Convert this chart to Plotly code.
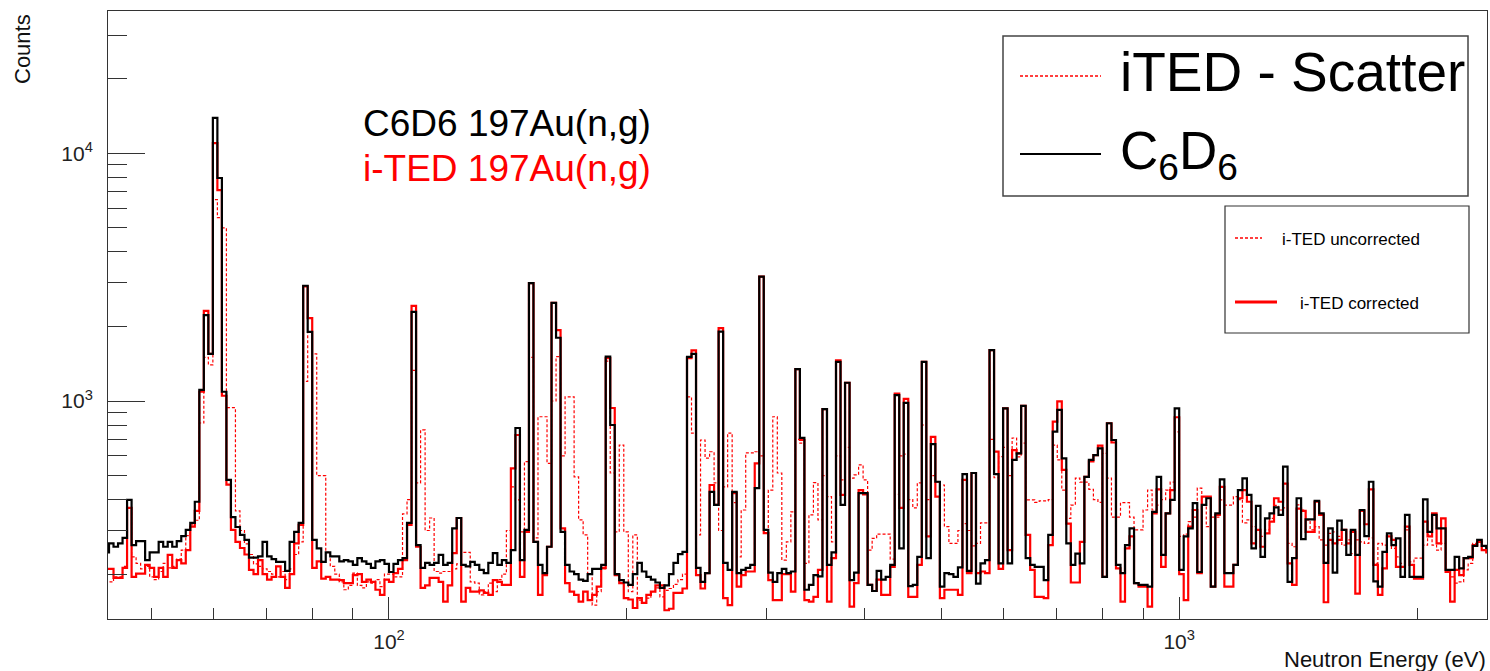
import numpy as np
import plotly.graph_objects as go

# ---------------- data ----------------
# Histogram binning: 175 logarithmic bins per decade, edges anchored on 1 keV
bins_per_decade = 175
first_bin_index = -238          # first visible bin starts 238 bins below 1000 eV

# C6D6 197Au(n,g) counts per bin
c6d6 = [
    245, 266, 258, 266, 280, 399, 262, 272, 272, 228,
    245, 245, 270, 258, 270, 258, 272, 285, 302, 322,
    392, 1108, 2223, 1550, 13900, 7950, 1090, 480, 340, 310,
    288, 275, 233, 233, 236, 270, 236, 230, 224, 224,
    206, 270, 296, 322, 2920, 1900, 275, 254, 224, 245,
    236, 236, 225, 228, 225, 218, 232, 225, 220, 212,
    225, 228, 220, 204, 220, 228, 232, 322, 2290, 262,
    212, 222, 218, 222, 239, 218, 222, 306, 337, 218,
    215, 224, 218, 208, 202, 222, 243, 218, 228, 222,
    250, 778, 228, 302, 2990, 270, 218, 202, 258, 2490,
    1800, 296, 218, 205, 200, 190, 188, 200, 210, 210,
    218, 1510, 800, 200, 189, 185, 181, 200, 222, 205,
    195, 190, 185, 176, 180, 200, 222, 241, 246, 1506,
    1550, 212, 186, 202, 430, 381, 1905, 222, 208, 430,
    202, 208, 212, 218, 445, 3180, 302, 203, 186, 202,
    210, 202, 205, 1345, 710, 173, 181, 198, 196, 928,
    218, 245, 1440, 381, 1185, 189, 203, 425, 425, 181,
    171, 206, 190, 195, 218, 1057, 254, 982, 179, 181,
    235, 1440, 232, 670, 472, 178, 202, 200, 195, 213,
    507, 206, 512, 183, 221, 228, 1606, 507, 221, 934,
    221, 578, 615, 955, 232, 218, 214, 214, 189, 288,
    752, 920, 587, 266, 218, 242, 221, 494, 578, 605,
    644, 195, 813, 696, 218, 202, 262, 306, 184, 181,
    181, 178, 357, 494, 239, 352, 399, 934, 208, 284,
    306, 387, 204, 381, 405, 178, 352, 483, 202, 202,
    218, 437, 487, 418, 254, 377, 235, 336, 352, 372,
    347, 543, 186, 232, 405, 277, 333, 333, 395, 352,
    222, 306, 203, 329, 302, 239, 302, 239, 363, 285,
    472, 187, 178, 246, 292, 262, 279, 195, 347, 195,
    195, 195, 401, 296, 347, 306, 306, 208, 208, 235,
    211, 232, 235, 260, 275, 260, 255,
]

# i-TED corrected counts per bin
ited_corrected = [
    210, 210, 193, 193, 212, 370, 195, 201, 201, 218,
    212, 195, 212, 195, 239, 212, 228, 221, 250, 311,
    360, 1090, 2310, 1550, 11000, 7100, 1050, 460, 302, 270,
    255, 240, 208, 200, 228, 200, 190, 195, 215, 195,
    176, 200, 266, 316, 2900, 2160, 212, 225, 192, 195,
    190, 190, 189, 184, 184, 198, 200, 186, 190, 186,
    173, 165, 190, 186, 202, 210, 228, 316, 2420, 258,
    176, 180, 193, 193, 186, 155, 180, 243, 337, 155,
    176, 170, 170, 172, 168, 165, 189, 186, 181, 181,
    535, 729, 195, 296, 2990, 270, 165, 198, 258, 2490,
    1934, 306, 184, 170, 165, 155, 170, 157, 165, 178,
    212, 1490, 937, 198, 184, 160, 158, 146, 160, 153,
    165, 170, 180, 180, 143, 145, 168, 168, 175, 1490,
    1600, 198, 175, 202, 458, 381, 1970, 160, 150, 425,
    178, 198, 205, 205, 560, 3180, 293, 189, 157, 157,
    200, 200, 170, 1345, 696, 157, 155, 162, 208, 928,
    155, 232, 1460, 418, 1185, 148, 184, 437, 420, 181,
    171, 190, 165, 165, 214, 1070, 370, 1020, 162, 162,
    218, 1440, 284, 717, 411, 160, 173, 173, 173, 165,
    480, 202, 512, 202, 205, 202, 1606, 625, 210, 934,
    250, 634, 615, 955, 288, 208, 162, 162, 160, 262,
    825, 996, 527, 320, 185, 185, 270, 494, 570, 605,
    660, 195, 813, 680, 211, 155, 254, 284, 184, 178,
    178, 148, 352, 440, 214, 352, 437, 860, 200, 157,
    311, 363, 202, 411, 411, 178, 347, 450, 178, 178,
    218, 405, 437, 392, 266, 302, 258, 292, 326, 405,
    392, 464, 221, 181, 368, 360, 296, 296, 392, 347,
    154, 275, 266, 275, 302, 266, 296, 167, 360, 318,
    440, 218, 165, 211, 284, 275, 214, 214, 311, 218,
    192, 192, 326, 284, 352, 266, 336, 204, 155, 208,
    198, 232, 232, 262, 270, 250, 245,
]

# i-TED uncorrected (iTED - Scatter) counts per bin
ited_uncorrected = [
    186, 186, 195, 195, 215, 370, 235, 221, 210, 215,
    195, 190, 205, 221, 212, 215, 230, 250, 286, 316,
    330, 815, 1500, 1400, 6500, 5500, 5000, 940, 940, 360,
    300, 265, 240, 220, 215, 210, 205, 200, 195, 205,
    190, 210, 240, 270, 1200, 1900, 1550, 500, 500, 245,
    215, 200, 186, 173, 180, 202, 180, 176, 186, 184,
    190, 178, 200, 200, 195, 195, 350, 400, 1330, 467,
    764, 300, 337, 205, 202, 205, 205, 210, 220, 245,
    245, 186, 184, 165, 170, 184, 170, 190, 200, 300,
    450, 399, 296, 569, 1500, 280, 864, 864, 560, 1000,
    1510, 600, 1040, 1040, 494, 331, 288, 200, 150, 170,
    210, 1450, 512, 296, 664, 296, 170, 288, 157, 153,
    160, 170, 176, 162, 172, 175, 182, 190, 200, 1040,
    742, 288, 696, 588, 624, 467, 300, 450, 742, 389,
    235, 363, 617, 617, 624, 600, 293, 437, 864, 512,
    228, 270, 357, 700, 676, 221, 347, 468, 331, 500,
    411, 270, 600, 480, 650, 488, 503, 552, 480, 250,
    279, 290, 290, 290, 230, 420, 600, 610, 400, 370,
    467, 800, 400, 500, 470, 458, 311, 266, 266, 300,
    320, 300, 260, 266, 322, 322, 700, 490, 596, 650,
    500, 709, 595, 676, 399, 399, 390, 395, 395, 400,
    664, 578, 437, 336, 380, 488, 470, 470, 440, 400,
    390, 615, 488, 340, 340, 389, 389, 340, 302, 302,
    363, 437, 363, 380, 400, 437, 470, 750, 284, 290,
    326, 340, 445, 381, 311, 340, 340, 399, 380, 380,
    411, 400, 322, 331, 311, 302, 284, 302, 336, 379,
    363, 370, 266, 258, 381, 363, 331, 302, 311, 275,
    262, 292, 296, 284, 262, 275, 242, 275, 270, 266,
    280, 221, 266, 262, 284, 254, 235, 221, 302, 224,
    232, 232, 262, 288, 262, 250, 266, 208, 195, 184,
    186, 208, 221, 266, 275, 258, 255,
]

x_major_ticks = [100, 1000]
x_major_text = ["10<sup>2</sup>", "10<sup>3</sup>"]
x_minor_ticks = [50, 60, 70, 80, 90, 200, 300, 400, 500, 600, 700, 800, 900, 2000]
y_major_ticks = [1000, 10000]
y_major_text = ["10<sup>3</sup>", "10<sup>4</sup>"]
y_minor_ticks = [200, 300, 400, 500, 600, 700, 800, 900,
                 2000, 3000, 4000, 5000, 6000, 7000, 8000, 9000, 20000, 30000]

x_range_ev = (44.1, 2452.0)
y_range_counts = (131.8, 37540.0)

# ---------------- figure ----------------
n_bins = len(c6d6)
edges = 1000.0 * 10 ** (np.arange(first_bin_index, first_bin_index + n_bins + 1) / bins_per_decade)


def step_y(vals):
    return list(vals) + [vals[-1]]


fig = go.Figure()
fig.add_trace(go.Scatter(
    x=edges, y=step_y(ited_uncorrected), mode="lines", name="i-TED uncorrected",
    line=dict(color="#ff0000", width=1.2, dash="3px,2px", shape="hv"), showlegend=False))
fig.add_trace(go.Scatter(
    x=edges, y=step_y(ited_corrected), mode="lines", name="i-TED corrected",
    line=dict(color="#ff0000", width=2.2, shape="hv"), showlegend=False))
fig.add_trace(go.Scatter(
    x=edges, y=step_y(c6d6), mode="lines", name="C6D6",
    line=dict(color="#000000", width=2.2, shape="hv"), showlegend=False))

W, H = 1490, 671
L, R, T, B = 108, 3, 11, 52
FONT = "Liberation Sans, Arial, Helvetica, sans-serif"
AX = "#333333"


def px(x):
    return (x - L) / (W - L - R)


def py(y):
    return (H - B - y) / (H - T - B)


fig.update_layout(
    width=W, height=H,
    margin=dict(l=L, r=R, t=T, b=B, pad=0),
    paper_bgcolor="white", plot_bgcolor="white",
    font=dict(family=FONT, color="#000000"),
    xaxis=dict(
        type="log", range=[np.log10(x_range_ev[0]), np.log10(x_range_ev[1])],
        tickmode="array", tickvals=x_major_ticks, ticktext=x_major_text,
        ticks="inside", ticklen=22, tickwidth=1, tickcolor=AX,
        minor=dict(tickmode="array", tickvals=x_minor_ticks, ticks="inside",
                   ticklen=11, tickwidth=1, tickcolor=AX, showgrid=False),
        showline=True, linecolor=AX, linewidth=1, mirror=True,
        showgrid=False, zeroline=False,
        tickfont=dict(family=FONT, size=21, color="#222222"),
        ticklabelstandoff=4,
    ),
    yaxis=dict(
        type="log", range=[np.log10(y_range_counts[0]), np.log10(y_range_counts[1])],
        tickmode="array", tickvals=y_major_ticks, ticktext=y_major_text,
        ticks="inside", ticklen=37, tickwidth=1, tickcolor=AX,
        minor=dict(tickmode="array", tickvals=y_minor_ticks, ticks="inside",
                   ticklen=19, tickwidth=1, tickcolor=AX, showgrid=False),
        showline=True, linecolor=AX, linewidth=1, mirror=True,
        showgrid=False, zeroline=False,
        tickfont=dict(family=FONT, size=21, color="#222222"),
        ticklabelstandoff=10,
    ),
)

annotations = [
    dict(text="Counts", x=px(22), y=py(12), xref="paper", yref="paper",
         xanchor="center", yanchor="top", textangle=-90, showarrow=False,
         font=dict(family=FONT, size=22, color="#111111")),
    dict(text="Neutron Energy (eV)", x=px(1488), y=py(659), xref="paper", yref="paper",
         xanchor="right", yanchor="middle", showarrow=False,
         font=dict(family=FONT, size=22, color="#111111")),
    dict(text="C6D6 197Au(n,g)", x=px(361), y=py(124), xref="paper", yref="paper",
         xanchor="left", yanchor="middle", showarrow=False,
         font=dict(family=FONT, size=37, color="#000000")),
    dict(text="i-TED 197Au(n,g)", x=px(361), y=py(168), xref="paper", yref="paper",
         xanchor="left", yanchor="middle", showarrow=False,
         font=dict(family=FONT, size=37, color="#ff0000")),
    dict(text="iTED - Scatter", x=px(1118), y=py(72), xref="paper", yref="paper",
         xanchor="left", yanchor="middle", showarrow=False,
         font=dict(family=FONT, size=55, color="#000000")),
    dict(text="C<sub>6</sub>D<sub>6</sub>", x=px(1118), y=py(155), xref="paper", yref="paper",
         xanchor="left", yanchor="middle", showarrow=False,
         font=dict(family=FONT, size=53, color="#000000")),
    dict(text="i-TED uncorrected", x=px(1280), y=py(239), xref="paper", yref="paper",
         xanchor="left", yanchor="middle", showarrow=False,
         font=dict(family=FONT, size=17, color="#000000")),
    dict(text="i-TED corrected", x=px(1298), y=py(303), xref="paper", yref="paper",
         xanchor="left", yanchor="middle", showarrow=False,
         font=dict(family=FONT, size=17, color="#000000")),
]

shapes = [
    # big legend box
    dict(type="rect", xref="paper", yref="paper", x0=px(1003), x1=px(1468), y0=py(36), y1=py(196),
         line=dict(color="#444444", width=1.5), fillcolor="white", layer="above"),
    # small legend box
    dict(type="rect", xref="paper", yref="paper", x0=px(1225), x1=px(1469), y0=py(206), y1=py(333),
         line=dict(color="#333333", width=1.2), fillcolor="white", layer="above"),
    # legend samples
    dict(type="line", xref="paper", yref="paper", x0=px(1020), x1=px(1101), y0=py(76), y1=py(76),
         line=dict(color="#ff0000", width=1.3, dash="3px,2px"), layer="above"),
    dict(type="line", xref="paper", yref="paper", x0=px(1020), x1=px(1101), y0=py(154), y1=py(154),
         line=dict(color="#000000", width=2), layer="above"),
    dict(type="line", xref="paper", yref="paper", x0=px(1235), x1=px(1262), y0=py(238), y1=py(238),
         line=dict(color="#ff0000", width=1.3, dash="3px,2px"), layer="above"),
    dict(type="line", xref="paper", yref="paper", x0=px(1235), x1=px(1277), y0=py(302), y1=py(302),
         line=dict(color="#ff0000", width=3), layer="above"),
]

fig.update_layout(annotations=annotations, shapes=shapes)
fig.write_html("out.html")
